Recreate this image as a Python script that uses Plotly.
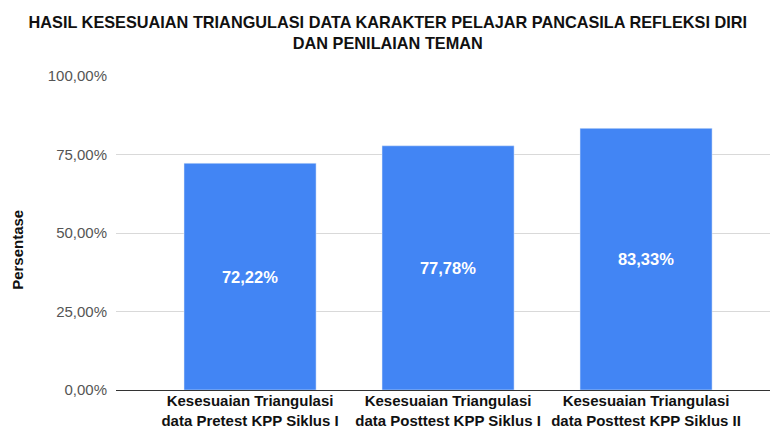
import plotly.graph_objects as go

categories = [
    "Kesesuaian Triangulasi<br>data Pretest KPP Siklus I",
    "Kesesuaian Triangulasi<br>data Posttest KPP Siklus I",
    "Kesesuaian Triangulasi<br>data Posttest KPP Siklus II",
]
values = [72.22, 77.78, 83.33]
tick_vals = [0, 25, 50, 75, 100]
tick_text = ["0,00%", "25,00%", "50,00%", "75,00%", "100,00%"]

FONT = "Liberation Sans, Arial"

fig = go.Figure(go.Bar(
    x=[0, 1, 2],
    y=values,
    width=0.667,
    marker_color="#4285F4",
    texttemplate="<b>%{y:.2f}%</b>",
    textposition="inside",
    insidetextanchor="middle",
    textfont=dict(color="white", size=16.5, family=FONT),
))

fig.update_layout(
    width=771, height=430,
    margin=dict(l=116, r=1, t=76, b=40),
    plot_bgcolor="white", paper_bgcolor="white",
    separators=",.",
    font=dict(family=FONT, color="#444"),
    title=dict(
        text="<b>HASIL KESESUAIAN TRIANGULASI DATA KARAKTER PELAJAR PANCASILA REFLEKSI DIRI<br>DAN PENILAIAN TEMAN</b>",
        x=0.503, xanchor="center", y=0.935, yanchor="top",
        font=dict(size=16.3, color="#111", family=FONT),
    ),
    showlegend=False,
    uniformtext=dict(minsize=8, mode="show"),
    annotations=[dict(
        text="<b>Persentase</b>", textangle=-90,
        xref="paper", yref="paper", x=-0.15, y=0.446,
        xanchor="center", yanchor="middle", showarrow=False,
        font=dict(size=15, color="#111", family=FONT),
    )],
)
fig.update_xaxes(
    range=[-0.677, 2.626],
    tickvals=[0, 1, 2], ticktext=["<b>" + c.replace("<br>", "</b><br><b>") + "</b>" for c in categories],
    tickfont=dict(size=15, color="#111"),
    showgrid=False, showline=False, ticks="",
    automargin=False, ticklabelstandoff=0,
)
fig.update_yaxes(
    range=[0, 100], tickvals=tick_vals, ticktext=tick_text,
    tickfont=dict(size=15, color="#555"),
    gridcolor="#d9d9d9", zeroline=True, zerolinecolor="#333", zerolinewidth=1,
    ticklabelstandoff=8, automargin=False,
)
fig.write_html("out.html", config={"displayModeBar": False},
               post_script="document.body.style.margin='0';")
